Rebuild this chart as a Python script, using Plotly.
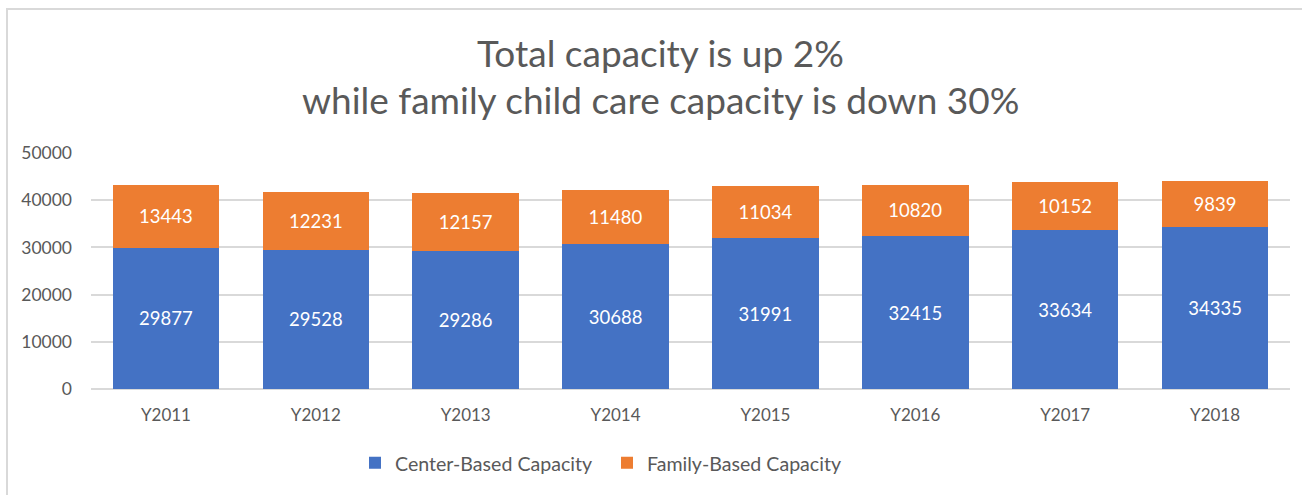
import plotly.graph_objects as go

years = ["Y2011", "Y2012", "Y2013", "Y2014", "Y2015", "Y2016", "Y2017", "Y2018"]
center_based = [29877, 29528, 29286, 30688, 31991, 32415, 33634, 34335]
family_based = [13443, 12231, 12157, 11480, 11034, 10820, 10152, 9839]
y_ticks = [0, 10000, 20000, 30000, 40000, 50000]

FONT = "Lato"
GREY = "#595959"

fig = go.Figure()
fig.add_trace(go.Bar(
    x=years, y=center_based, name="Center-Based Capacity",
    marker=dict(color="#4472C4", line=dict(width=0)),
    text=center_based, textposition="inside", insidetextanchor="middle",
    textangle=0, constraintext="none",
    textfont=dict(color="white", size=18.5, family=FONT),
))
fig.add_trace(go.Bar(
    x=years, y=family_based, name="Family-Based Capacity",
    marker=dict(color="#ED7D31", line=dict(width=0)),
    text=family_based, textposition="inside", insidetextanchor="middle",
    textangle=0, constraintext="none",
    textfont=dict(color="white", size=18.5, family=FONT),
))

fig.update_layout(
    barmode="stack",
    bargap=0.29,
    width=1302, height=495,
    margin=dict(l=91, r=12, t=153, b=106),
    paper_bgcolor="white", plot_bgcolor="white",
    font=dict(family=FONT, color=GREY),
    showlegend=True,
    legend=dict(orientation="h", x=(355 - 91) / 1199, xanchor="left", y=-0.314, yanchor="middle",
                font=dict(size=19.6, color=GREY, family=FONT), traceorder="normal",
                entrywidth=207, itemwidth=30, itemsizing="constant"),
    uniformtext=dict(mode=False),
)
fig.update_xaxes(showgrid=False, showline=False, ticks="", ticklabelstandoff=14,
                 tickfont=dict(size=17, color=GREY, family=FONT))
fig.update_yaxes(range=[0, 50000], tickvals=y_ticks, ticktext=[str(v) for v in y_ticks],
                 showgrid=True, gridcolor="#d9d9d9", gridwidth=1.5, zeroline=True,
                 zerolinecolor="#d9d9d9", zerolinewidth=1.5, showline=False,
                 tickfont=dict(size=17.5, color=GREY, family=FONT), ticklabelstandoff=18)

fig.add_annotation(text="Total capacity is up 2%", xref="paper", yref="paper",
                   x=(660 - 91) / 1199, y=(389 - 52) / 236, xanchor="center", yanchor="middle",
                   showarrow=False, font=dict(size=37, color=GREY, family=FONT))
fig.add_annotation(text="while family child care capacity is down 30%", xref="paper", yref="paper",
                   x=(660 - 91) / 1199, y=(389 - 100) / 236, xanchor="center", yanchor="middle",
                   showarrow=False, font=dict(size=37, color=GREY, family=FONT))

fig.add_shape(type="rect", xref="paper", yref="paper",
              x0=(7 - 91) / 1199, y0=(389 - 9) / 236, x1=1.2, y1=-1.0,
              line=dict(color="#d9d9d9", width=2), fillcolor="rgba(0,0,0,0)", layer="below")

fig.write_html("out.html", config={"displayModeBar": False},
               post_script="document.body.style.margin='0';")
